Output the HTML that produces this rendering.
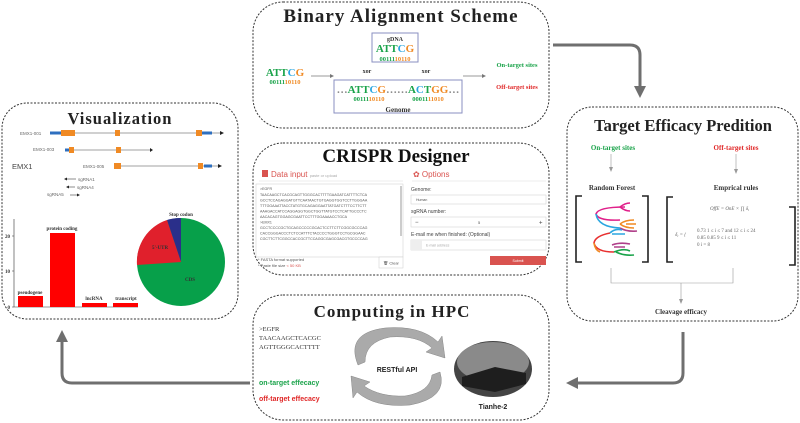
<!DOCTYPE html>
<html><head><meta charset="utf-8"><style>
html,body{margin:0;padding:0;background:#fff;}
svg{display:block;}
.t{font-family:"Liberation Serif",serif;font-weight:bold;}
.s{font-family:"Liberation Sans",sans-serif;}
</style></head><body>
<svg width="800" height="423" viewBox="0 0 800 423" xmlns="http://www.w3.org/2000/svg">
<defs>
<marker id="ah" markerWidth="4" markerHeight="4" refX="2" refY="2" orient="auto" markerUnits="strokeWidth"><path d="M0,0 L4,2 L0,4 Z" fill="#6f6f6f"/></marker>
</defs>
<g fill="none" stroke="#333" stroke-width="1" stroke-dasharray="2,1.5">
<rect x="253" y="2" width="296" height="126" rx="30"/>
<rect x="253" y="143" width="296" height="132" rx="30"/>
<rect x="567" y="107" width="231" height="214" rx="25"/>
<rect x="2" y="103" width="236" height="216" rx="25"/>
<rect x="253" y="295" width="296" height="125" rx="30"/>
</g>
<g fill="none" stroke="#6f6f6f" stroke-width="3">
<path d="M553,45 H630 Q640,45 640,55 V92" marker-end="url(#ah)"/>
<path d="M683,332 V373 Q683,383 673,383 H572" marker-end="url(#ah)"/>
<path d="M250,383 H72 Q62,383 62,373 V336" marker-end="url(#ah)"/>
</g>

<text x="401" y="22" text-anchor="middle" class="t" font-size="19" letter-spacing="1" fill="#222">Binary Alignment Scheme</text>
<rect x="372" y="33" width="46" height="29" fill="none" stroke="#8a8fc0" stroke-width="1"/>
<text x="395" y="41" text-anchor="middle" class="t" font-size="6" font-weight="normal" fill="#333">gDNA</text>
<text x="395" y="52" text-anchor="middle" class="t" font-size="11" font-weight="normal"><tspan fill="#1aa34a">ATT</tspan><tspan fill="#2aa6e0">C</tspan><tspan fill="#f08a24">G</tspan></text>
<text x="395" y="61" text-anchor="middle" class="t" font-size="6.5" fill="#1aa34a">00111<tspan fill="#f08a24">10110</tspan></text>
<text x="285" y="76" text-anchor="middle" class="t" font-size="11" font-weight="normal"><tspan fill="#1aa34a">ATT</tspan><tspan fill="#2aa6e0">C</tspan><tspan fill="#f08a24">G</tspan></text>
<text x="285" y="84" text-anchor="middle" class="t" font-size="6.5" fill="#1aa34a">00111<tspan fill="#f08a24">10110</tspan></text>
<line x1="311" y1="76" x2="330" y2="76" stroke="#777" stroke-width="0.8"/><path d="M330,74 L334,76 L330,78Z" fill="#777"/>
<text x="367" y="73" text-anchor="middle" class="t" font-size="6" fill="#333">xor</text>
<text x="426" y="73" text-anchor="middle" class="t" font-size="6" fill="#333">xor</text>
<rect x="334" y="80" width="128" height="33" fill="none" stroke="#8a8fc0" stroke-width="1"/>
<text x="398" y="93" text-anchor="middle" class="t" font-size="11" font-weight="normal"><tspan fill="#888">…</tspan><tspan fill="#1aa34a">ATT</tspan><tspan fill="#2aa6e0">C</tspan><tspan fill="#f08a24">G</tspan><tspan fill="#888">……</tspan><tspan fill="#1aa34a">A</tspan><tspan fill="#2aa6e0">C</tspan><tspan fill="#1aa34a">T</tspan><tspan fill="#f08a24">GG</tspan><tspan fill="#888">…</tspan></text>
<text x="369" y="101" text-anchor="middle" class="t" font-size="6.5" fill="#1aa34a">00111<tspan fill="#f08a24">10110</tspan></text>
<text x="428" y="101" text-anchor="middle" class="t" font-size="6.5" fill="#1aa34a">00011<tspan fill="#f08a24">11010</tspan></text>
<text x="398" y="112" text-anchor="middle" class="t" font-size="7" font-weight="normal" fill="#333">Genome</text>
<line x1="463" y1="76" x2="482" y2="76" stroke="#777" stroke-width="0.8"/><path d="M482,74 L486,76 L482,78Z" fill="#777"/>
<text x="517" y="67" text-anchor="middle" class="t" font-size="6.5" fill="#1aa34a">On-target sites</text>
<text x="517" y="89" text-anchor="middle" class="t" font-size="6.5" fill="#e02828">Off-target sites</text>

<text x="396" y="162" text-anchor="middle" class="t" font-size="19" fill="#111">CRISPR Designer</text>
<rect x="262" y="170" width="6" height="7" fill="#d9534f"/>
<text x="271" y="177" class="s" font-size="8" fill="#d9534f">Data input <tspan font-size="4" fill="#aaa">paste or upload</tspan></text>
<text x="413" y="177" class="s" font-size="8" fill="#d9534f">✿ Options</text>
<line x1="259" y1="181" x2="403" y2="181" stroke="#ddd" stroke-width="0.5"/>
<line x1="412" y1="181" x2="546" y2="181" stroke="#ddd" stroke-width="0.5"/>
<rect x="256" y="184" width="147" height="73" fill="#fff" stroke="#ccc" stroke-width="0.5"/>
<g class="s" font-size="3.6" fill="#555">
<text x="260" y="190">&gt;EGFR</text>
<text x="260" y="196">TAACAAGCTCACGCAGTTGGGCACTTTTGAAGATCATTTTCTCA</text>
<text x="260" y="201.5">GCCTCCAGAGGATGTTCAATAACTGTGAGGTGGTCCTTGGGAA</text>
<text x="260" y="207">TTTGGAAATTACCTATGTGCAGAGGAATTATGATCTTTCCTTCTT</text>
<text x="260" y="212.5">AAAGACCATCCAGGAGGTGGCTGGTTATGTCCTCATTGCCCTC</text>
<text x="260" y="218">AACACAGTGGAGCGAATTCCTTTGGAAAACCTGCA</text>
<text x="260" y="223.5">&gt;EMX1</text>
<text x="260" y="229">GCCTCCCCGCTGCAGCCCCCGCACTCCTTCTTCGGCGCCCAG</text>
<text x="260" y="234.5">CACCGGGACCCTCTCCATTTCTACCCCTGGGTCCTGCGGAAC</text>
<text x="260" y="240">CGCTTCTTCGGCCACCGCTTCCAGGCGAGCGACGTGCCCCAG</text>
<text x="258" y="261" font-size="4">* FASTA format supported</text>
<text x="258" y="267" font-size="4">* Paste file size <tspan fill="#d9534f">&lt; 50 KB</tspan></text>
</g>
<rect x="400" y="186" width="2" height="50" fill="#ccc"/>
<rect x="379" y="257" width="24" height="11" fill="#fff" stroke="#ccc" stroke-width="0.5"/>
<text x="391" y="264.5" text-anchor="middle" class="s" font-size="4" fill="#555">🗑 Clear</text>
<g class="s" fill="#444">
<text x="411" y="191" font-size="5">Genome:</text>
<rect x="411" y="195" width="135" height="9" fill="#fff" stroke="#ccc" stroke-width="0.5"/>
<text x="416" y="201" font-size="3.5" fill="#555">Human</text>
<text x="411" y="213" font-size="5">sgRNA number:</text>
<rect x="411" y="217" width="135" height="10" fill="#fff" stroke="#ccc" stroke-width="0.5"/>
<text x="415" y="224" font-size="6">−</text><text x="478" y="224" font-size="4" fill="#555">5</text><text x="539" y="224.5" font-size="6">+</text>
<text x="411" y="236" font-size="5">E-mail me when finished: (Optional)</text>
<rect x="411" y="240" width="135" height="10" fill="#fff" stroke="#ccc" stroke-width="0.5"/>
<rect x="411" y="240" width="11" height="10" fill="#eee"/>
<text x="426" y="246.5" font-size="3.5" fill="#aaa">E-mail address</text>
</g>
<rect x="490" y="256" width="56" height="9" fill="#d9534f"/>
<text x="518" y="262" text-anchor="middle" class="s" font-size="3.5" fill="#fff">Submit</text>

<text x="683" y="131" text-anchor="middle" class="t" font-size="16.5" fill="#222">Target Efficacy Predition</text>
<text x="613" y="150" text-anchor="middle" class="t" font-size="7" font-weight="normal" fill="#1aa34a">On-target sites</text>
<text x="736" y="150" text-anchor="middle" class="t" font-size="7" font-weight="normal" fill="#e02828">Off-target sites</text>
<g stroke="#999" stroke-width="0.6" fill="none"><line x1="611" y1="154" x2="611" y2="168"/><line x1="736" y1="154" x2="736" y2="170"/>
<path d="M611,268 V283 H733 V268 M681,283 V300"/></g>
<path d="M609,167 L611,172 L613,167Z M734,169 L736,174 L738,169Z M679,299 L681,304 L683,299Z" fill="#999"/>
<text x="612" y="190" text-anchor="middle" class="t" font-size="7" fill="#333">Random Forest</text>
<text x="736" y="190" text-anchor="middle" class="t" font-size="7" fill="#333">Emprical rules</text>
<g fill="none" stroke="#222" stroke-width="1.6">
<path d="M582,196 H576 V262 H582"/><path d="M642,196 H648 V262 H642"/>
<path d="M673,197 H667 V262 H673"/><path d="M789,207 H795 V265 H789"/>
</g>
<g fill="none" stroke-width="1.6">
<path d="M625,207 Q598,207 596,214 Q598,221 620,220" stroke="#e0208a"/>
<path d="M596,214 Q598,227 620,228" stroke="#2aa6e0"/>
<path d="M620,207 Q625,203 630,203 M620,207 Q625,211 630,211" stroke="#e0208a"/>
<path d="M620,224 Q625,220 634,220 M620,224 Q625,228 634,228 M626,224 H636" stroke="#f08a24"/>
<path d="M620,228 Q627,232 637,231" stroke="#b0408a"/>
<path d="M610,233 Q595,236 594,243 Q596,252 614,252" stroke="#e83030"/>
<path d="M594,243 Q595,250 600,252" stroke="#f08a24"/>
<path d="M610,233 Q615,228 622,230 M612,234 H625" stroke="#2aa6e0"/>
<path d="M612,245 Q620,242 630,244 M614,247 H625" stroke="#b0408a"/>
<path d="M614,252 Q624,248 630,251 M616,252 Q624,256 634,255" stroke="#1aa34a"/>
</g>
<g font-family="Liberation Serif,serif" font-style="italic" font-size="5" fill="#666">
<text x="710" y="210">OffE = OnE × ∏ δ<tspan font-size="3.5" dy="1">i</tspan></text>
<text x="675" y="236">δ<tspan font-size="3.5" dy="1">i</tspan><tspan dy="-1"> = {</tspan></text>
<text x="697" y="232" font-style="normal">0.73   1 ≤ i ≤ 7 and 12 ≤ i ≤ 24</text>
<text x="697" y="239" font-style="normal">0.85   0.85  9 ≤ i ≤ 11</text>
<text x="697" y="246" font-style="normal">0       i = 8</text>
</g>
<text x="681" y="314" text-anchor="middle" class="t" font-size="7" font-weight="normal" fill="#333">Cleavage efficacy</text>

<text x="120" y="124" text-anchor="middle" class="t" font-size="16.5" letter-spacing="1" fill="#222">Visualization</text>
<g class="s" font-size="4.5" fill="#666">
<text x="20" y="135">EMX1-001</text>
<text x="33" y="151">EMX1-003</text>
<text x="83" y="168">EMX1-005</text>
<text x="12" y="169" font-size="7.5" fill="#444">EMX1</text>
<text x="78" y="181">sgRNA1</text>
<text x="77" y="189">sgRNA4</text>
<text x="47" y="196">sgRNA5</text>
</g>
<g stroke="#444" stroke-width="0.6">
<line x1="50" y1="133" x2="220" y2="133"/><line x1="66" y1="150" x2="150" y2="150"/><line x1="115" y1="166" x2="218" y2="166"/>
<line x1="66" y1="179" x2="76" y2="179"/><line x1="68" y1="187" x2="75" y2="187"/><line x1="70" y1="195" x2="78" y2="195"/>
</g>
<path d="M220,131 L224,133 L220,135Z M150,148 L153,150 L150,152Z M218,164 L222,166 L218,168Z M64,179 L67,177.5 L67,180.5Z M66,187 L69,185.5 L69,188.5Z M80,195 L77,193.5 L77,196.5Z" fill="#222"/>
<g fill="#2e6fbf"><rect x="50" y="131.5" width="12" height="3"/><rect x="202" y="131.5" width="10" height="3"/><rect x="65" y="148.5" width="5" height="3"/><rect x="204" y="164.5" width="8" height="3"/></g>
<g fill="#f08a24"><rect x="61" y="130" width="14" height="6"/><rect x="115" y="130" width="5" height="6"/><rect x="196" y="130" width="6" height="6"/><rect x="69" y="147" width="5" height="6"/><rect x="116" y="147" width="5" height="6"/><rect x="114" y="163" width="7" height="6"/><rect x="198" y="163" width="5" height="6"/></g>
<g stroke="#333" stroke-width="0.6" fill="none"><path d="M14,219 V307 H138"/><path d="M12,236 H14 M12,271 H14 M12,307 H14"/></g>
<g class="t" font-size="5" font-weight="normal" fill="#333">
<text x="10" y="238" text-anchor="end">20</text><text x="10" y="273" text-anchor="end">10</text><text x="10" y="309" text-anchor="end">0</text>
</g>
<g fill="#f00"><rect x="18" y="296" width="25" height="11"/><rect x="50" y="233" width="25" height="74"/><rect x="82" y="303" width="25" height="4"/><rect x="113" y="303" width="25" height="4"/></g>
<g class="t" font-size="5" fill="#333" text-anchor="middle">
<text x="30" y="294">pseudogene</text><text x="62" y="230">protein coding</text><text x="94" y="300">lncRNA</text><text x="126" y="300">transcript</text>
</g>
<circle cx="181" cy="262" r="44" fill="#07a04a"/>
<path d="M181,262 L181,218 A44,44 0 0,0 167,220 Z" fill="#2a2f8a"/>
<path d="M181,262 L167,220 A44,44 0 0,0 137,265 Z" fill="#e0202c"/>
<text x="181" y="216" text-anchor="middle" class="t" font-size="5" fill="#333">Stop codon</text>
<text x="160" y="249" text-anchor="middle" class="t" font-size="5" fill="#333">5'-UTR</text>
<text x="190" y="281" text-anchor="middle" class="t" font-size="5" fill="#333">CDS</text>

<text x="392" y="317" text-anchor="middle" class="t" font-size="17" letter-spacing="1" fill="#222">Computing in HPC</text>
<g font-family="Liberation Serif,serif" font-size="6.5" fill="#333">
<text x="259" y="331">&gt;EGFR</text><text x="259" y="340">TAACAAGCTCACGC</text><text x="259" y="349">AGTTGGGCACTTTT</text>
</g>
<text x="259" y="385" class="s" font-size="7" font-weight="bold" fill="#1aa34a">on-target effecacy</text>
<text x="259" y="401" class="s" font-size="7" font-weight="bold" fill="#e02828">off-target effecacy</text>
<path d="M358,365 Q345,333 385,328 Q420,325 438,342 L442,336 L445,358 L426,352 L432,348 Q418,335 390,337 Q365,342 365,362 Z" fill="#aaa" stroke="#888" stroke-width="0.5"/>
<path d="M440,372 Q448,398 410,405 Q375,408 357,392 L353,398 L351,376 L370,382 L364,386 Q380,397 405,396 Q430,392 432,375 Z" fill="#aaa" stroke="#888" stroke-width="0.5"/>
<text x="397" y="372" text-anchor="middle" class="s" font-size="7" font-weight="bold" fill="#222">RESTful API</text>
<ellipse cx="493" cy="369" rx="39" ry="28" fill="#444"/>
<ellipse cx="493" cy="362" rx="36" ry="20" fill="#8a8a8a"/>
<path d="M462,377 L495,367 L526,373 L526,384 L495,392 L462,386Z" fill="#1e1e1e"/>
<text x="493" y="409" text-anchor="middle" class="s" font-size="7" font-weight="bold" fill="#222">Tianhe-2</text>
</svg>
</body></html>
